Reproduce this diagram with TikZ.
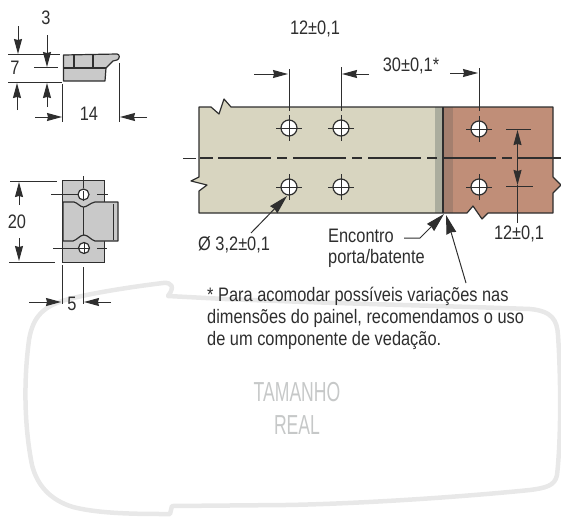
\documentclass[tikz,border=0pt]{standalone}
\usepackage{fontspec}
\setmainfont[FakeStretch=0.84]{Liberation Sans}
\newfontfamily\sizefont[FakeStretch=0.64]{Liberation Sans}
\usetikzlibrary{arrows.meta, calc}
\definecolor{inkline}{HTML}{2E2E2E}
\definecolor{partgray}{HTML}{C9C9C9}
\definecolor{doorbeige}{HTML}{D8D5C0}
\definecolor{doorstripe}{HTML}{ABAD9E}
\definecolor{frameclay}{HTML}{C08E78}
\definecolor{framestripe}{HTML}{A47F6E}
\definecolor{outlinegray}{HTML}{E8E8E8}
\definecolor{labelgray}{HTML}{C6C8C8}
\tikzset{
  dimtext/.style={inner sep=0pt, text=inkline, font=\fontsize{19.5}{20}\selectfont},
  sizetext/.style={inner sep=0pt, text=labelgray, font=\sizefont\fontsize{27.5}{28}\selectfont},
  dimline/.style={inkline, line width=1pt},
  dimarrow/.style={inkline, line width=1pt, -{Stealth[length=15pt,width=8pt,inset=1pt]}},
  leadarrow/.style={inkline, line width=1pt, -{Stealth[length=19pt,width=10pt,inset=1pt]}},
  partline/.style={draw=inkline, line width=1.2pt}
}
\begin{document}
\begin{tikzpicture}[x=1pt, y=-1pt]
\useasboundingbox (0,0) rectangle (561,517);
% Draw outline of the real size area
\draw[outlinegray, line width=4.5pt, line join=round, line cap=round]
  (168,296) -- (225,299) .. controls (350,304) and (450,306) .. (530,309)
  .. controls (552,311) and (557,320) .. (558,335)
  .. controls (561,380) and (561,440) .. (557,475)
  .. controls (555,486) and (545,488) .. (530,490)
  .. controls (450,498) and (350,504) .. (285,505) -- (172,506) -- (170,514)
  .. controls (140,514) and (100,514) .. (73,507)
  .. controls (50,500) and (37,485) .. (32,465)
  .. controls (25,430) and (23,385) .. (29,340)
  .. controls (33,315) and (45,307) .. (62,301)
  .. controls (85,294) and (130,287) .. (163,283)
  .. controls (172,282) and (175,287) .. (168,296) -- cycle;
\node[sizetext] (sizetop) at (297,392) {TAMANHO};
\node[sizetext] (sizebottom) at (297,425) {REAL};
% Draw side view of the part
\draw[partline, fill=partgray, line join=round]
  (63.5,55) -- (117,54) .. controls (120,54) and (120,59) .. (117,60)
  -- (113,61) -- (106,68) -- (105,81) -- (63.5,81) -- cycle;
\draw[partline] (63.5,68) -- (106,68);
\draw[partline] (74,55) -- (74,68);
\draw[partline] (93,55) -- (93,68);
% Dimensions of side view
\draw[dimline] (8,54) -- (60,54);
\draw[dimline] (8,82) -- (62,82);
\draw[dimline] (34,67.5) -- (58,67.5);
\draw[dimarrow] (18,26) -- (18,54);
\draw[dimarrow] (17,110) -- (17,83);
\draw[dimarrow] (47,35) -- (47,67);
\draw[dimarrow] (47,107) -- (47,83);
\draw[dimline] (62.5,84) -- (62.5,122);
\draw[dimline] (119,63) -- (119,122);
\draw[dimarrow] (35,117) -- (62,117);
\draw[dimarrow] (147,117) -- (120,117);
\node[dimtext] (sidethree) at (46,18) {3};
\node[dimtext] (sideseven) at (15,68) {7};
\node[dimtext] (sidefourteen) at (89,114) {14};
% Draw front view of the part
\fill[partgray] (62,180) rectangle (104.5,262);
\draw[inkline, line width=0.6pt] (62,180) rectangle (104.5,262);
\draw[partline, fill=partgray, line join=round]
  (63,202) -- (74,202) .. controls (78,203) and (80,207) .. (83.5,207)
  .. controls (87,207) and (90,203) .. (95,202) -- (118,202) -- (118,241)
  -- (95,241) .. controls (91,240) and (88,235) .. (84,235)
  .. controls (80,235) and (77,240) .. (73,241) -- (63,241) -- cycle;
\draw[inkline, line width=1pt] (113.5,204) -- (113.5,240);
\draw[dimline] (83.5,176) -- (83.5,188);
\draw[partline] (83.5,207) -- (83.5,235);
\draw[dimline] (51,194.5) -- (79,194.5);
\draw[dimline] (97,194.5) -- (108,194.5);
\draw[dimline] (53,248) -- (79,248);
\draw[dimline] (97,248) -- (107,248);
\draw[partline, fill=white] (83.5,194.5) circle [radius=5.5pt];
\draw[partline, fill=white] (84,248) circle [radius=5.5pt];
\draw[inkline, line width=0.8pt] (83.5,191) -- (83.5,201);
\draw[inkline, line width=0.8pt] (79,248) -- (89,248);
\draw[inkline, line width=0.8pt] (84,242) -- (84,254);
% Dimensions of front view
\draw[dimline] (10,181) -- (57,181);
\draw[dimline] (9,262) -- (55,262);
\draw[dimarrow] (19,205) -- (19,182);
\draw[dimarrow] (19,238) -- (19,261);
\draw[dimline] (62,265) -- (62,304);
\draw[dimline] (83.5,267) -- (83.5,304);
\draw[dimarrow] (29,302) -- (61,302);
\draw[dimarrow] (111,302) -- (84,302);
\node[dimtext] (fronttwenty) at (17,222) {20};
\node[dimtext] (frontfive) at (72,304) {5};
% Draw door plate and frame
\fill[doorbeige] (199,107) -- (211,107) -- (219,114) -- (224,99) -- (231,107) -- (443,107)
  -- (443,213) -- (199,213) -- (199,191) -- (207,185) -- (191,181) -- (199,177) -- cycle;
\fill[doorstripe] (435,107) rectangle (443,213);
\fill[frameclay] (443,107) -- (553,107) -- (553,177) -- (561,185) -- (553,193) -- (553,213)
  -- (488,213) -- (482,219) -- (473,206) -- (467,213) -- (443,213) -- cycle;
\fill[framestripe] (443,107) rectangle (453,213);
\draw[partline, line join=round] (199,107) -- (211,107) -- (219,114) -- (224,99) -- (231,107) -- (553,107)
  -- (553,177) -- (561,185) -- (553,193) -- (553,213) -- (488,213) -- (482,219) -- (473,206) -- (467,213)
  -- (199,213) -- (199,191) -- (207,185) -- (191,181) -- (199,177) -- cycle;
\draw[inkline, line width=1.4pt] (443,107) -- (443,213);
% Center line
\draw[inkline, line width=0.7pt] (183,158) -- (196,158);
\draw[inkline, line width=1.3pt] (200,158) -- (213,158);
\draw[inkline, line width=1.3pt, dash pattern=on 53pt off 6pt on 10pt off 6pt] (218,158) -- (561,158);
% Draw holes
\foreach \holename/\holex/\holey in {holea/289/128, holeb/341/128, holec/289/187, holed/341/187, holee/479/129, holef/479/187} {
  \coordinate (\holename) at (\holex,\holey);
  \draw[partline, fill=white] (\holename) circle [radius=8pt];
  \draw[inkline, line width=0.9pt] ($(\holename)+(-13,0)$) -- ($(\holename)+(13,0)$);
  \draw[inkline, line width=0.9pt] ($(\holename)+(0,-13)$) -- ($(\holename)+(0,13)$);
}
% Dimensions of plate
\draw[dimline] (289,69) -- (289,111);
\draw[dimline] (341,67) -- (341,111);
\draw[dimline] (479,68) -- (479,111);
\draw[dimarrow] (254,74) -- (288,74);
\draw[dimarrow] (369,74) -- (342,74);
\draw[dimarrow] (450,73) -- (478,73);
\node[dimtext] (gaptext) at (315,29) {12±0,1};
\node[dimtext] (offsettext) at (411,66) {30±0,1*};
\draw[dimline] (506,129) -- (531,129);
\draw[dimline] (506,186) -- (533,186);
\draw[dimarrow] (517.5,158) -- (517.5,130);
\draw[dimarrow] (517.5,158) -- (517.5,185);
\draw[dimline] (517.5,185) -- (517.5,223);
\node[dimtext] (rowtext) at (519,234) {12±0,1};
% Labels with arrows
\node[dimtext, anchor=west] (holetext) at (198,245) {Ø 3,2±0,1};
\draw[leadarrow] (251,233) -- (287,196);
\node[dimtext, anchor=west] (meettop) at (328,236) {Encontro};
\node[dimtext, anchor=west] (meetbottom) at (328,258) {porta/batente};
\coordinate (meetpoint) at (444,214);
\draw[leadarrow] (404,238) -- (420,238) -- (meetpoint);
\draw[leadarrow] (466,283) -- (446,215);
% Note
\node[dimtext, anchor=west] (notea) at (207,296) {* Para acomodar possíveis variações nas};
\node[dimtext, anchor=west] (noteb) at (207,318) {dimensões do painel, recomendamos o uso};
\node[dimtext, anchor=west] (notec) at (207,340) {de um componente de vedação.};
\end{tikzpicture}
\end{document}
